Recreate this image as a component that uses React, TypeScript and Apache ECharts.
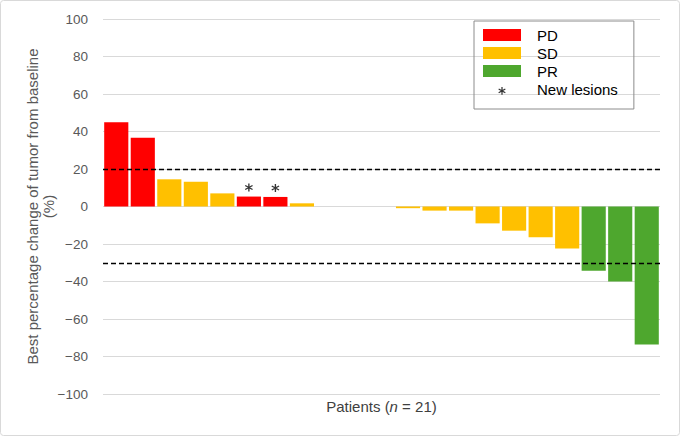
import React, { useEffect, useRef } from "react";
import * as echarts from "echarts";

const patients = ["1","2","3","4","5","6","7","8","9","10","11","12","13","14","15","16","17","18","19","20","21"];
const changes = [45, 36.7, 14.5, 13.2, 7, 5.3, 5.1, 1.7, 0, 0, 0, -0.9, -2.2, -2.2, -9, -12.9, -16.4, -22.4, -34.3, -40, -73.6];
const status = ["PD","PD","SD","SD","SD","PD","PD","SD","SD","SD","SD","SD","SD","SD","SD","SD","SD","SD","PR","PR","PR"];
const newLesion = [false,false,false,false,false,true,true,false,false,false,false,false,false,false,false,false,false,false,false,false,false];
const groups = ["PD", "SD", "PR"];
const groupColors = ["#ff0000", "#ffc000", "#4ea72e"];
const thresholds = [20, -30];
const yTicks = { min: -100, max: 100, interval: 20 };

const ASTERISK_BODY =
  "M4.2 0L5.8 0L5.8 10L4.2 10Z" +
  "M1.07 1.81L9.73 6.81L8.93 8.19L0.27 3.19Z" +
  "M0.27 6.81L8.93 1.81L9.73 3.19L1.07 8.19Z";
const ASTERISK = "path://" + ASTERISK_BODY;
// legend variant: extra empty extent above so the glyph sits smaller and lower
const ASTERISK_LEGEND = "path://M5 -5.2L5.01 -5.2" + ASTERISK_BODY + "M5 10.4L5.01 10.4";

export default function App() {
  const ref = useRef<HTMLDivElement>(null);
  useEffect(() => {
    if (!ref.current) return;
    const chart = echarts.init(ref.current, null, { renderer: "svg" });
    const font = "'Liberation Sans', Arial, sans-serif";
    const barSeries = groups.map((g, gi) => ({
      name: g,
      type: "bar",
      barGap: "-100%",
      barCategoryGap: "9%",
      itemStyle: { color: groupColors[gi] },
      data: changes.map((v, i) => (status[i] === g ? v : "-")),
      markLine:
        gi === 0
          ? {
              silent: true,
              symbol: "none",
              label: { show: false },
              lineStyle: { color: "#000", type: [5, 3], width: 1.3 },
              data: thresholds.map((t) => ({ yAxis: t })),
            }
          : undefined,
    }));
    const lesionSeries = {
      name: "New lesions",
      type: "scatter",
      symbol: ASTERISK,
      symbolSize: 8,
      symbolOffset: [0, -9],
      itemStyle: { color: "#000" },
      data: changes
        .map((v, i) => (newLesion[i] ? [i, v] : null))
        .filter((d) => d !== null),
      z: 5,
    };
    chart.setOption({
      animation: false,
      textStyle: { fontFamily: font },
      graphic: [
        {
          type: "rect",
          shape: { x: 0.5, y: 0.5, width: 679, height: 435, r: 3 },
          style: { fill: "none", stroke: "#d9d9d9", lineWidth: 1 },
          silent: true,
        },
      ],
      grid: { left: 103, right: 20, top: 19, bottom: 42 },
      legend: {
        orient: "vertical",
        left: 474,
        top: 21,
        padding: [5, 16, 11, 9],
        borderColor: "#8c8c8c",
        borderWidth: 1,
        itemWidth: 38,
        itemHeight: 12,
        itemGap: 0,
        selectedMode: false,
        textStyle: { fontSize: 15, color: "#000", lineHeight: 18, padding: [0, 0, 0, 11], fontFamily: font },
        data: [
          { name: "PD", icon: "rect" },
          { name: "SD", icon: "rect" },
          { name: "PR", icon: "rect" },
          { name: "New lesions", icon: ASTERISK_LEGEND },
        ],
      },
      xAxis: {
        type: "category",
        data: patients,
        axisLine: { show: false, onZero: false },
        axisTick: { show: false },
        axisLabel: { show: false },
        name: "Patients ({i|n} = 21)",
        nameLocation: "middle",
        nameGap: 5,
        nameMoveOverlap: false,
        nameTextStyle: {
          fontSize: 15,
          color: "#404040",
          verticalAlign: "top",
          rich: { i: { fontStyle: "italic", fontSize: 15, color: "#404040" } },
        },
      },
      yAxis: {
        type: "value",
        min: yTicks.min,
        max: yTicks.max,
        interval: yTicks.interval,
        axisLine: { show: false },
        axisTick: { show: false },
        splitLine: { lineStyle: { color: "#d9d9d9", width: 1 } },
        axisLabel: {
          fontSize: 13.5,
          color: "#595959",
          margin: 15,
          formatter: (v: number) => String(v).replace("-", "\u2212"),
        },
        name: "Best percentage change of tumor from baseline\n(%)",
        nameLocation: "middle",
        nameGap: 47,
        nameMoveOverlap: false,
        nameTextStyle: { fontSize: 15, color: "#595959", lineHeight: 16 },
      },
      series: [...barSeries, lesionSeries],
    });
    return () => chart.dispose();
  }, []);
  return (
    <div
      ref={ref}
      style={{ position: "absolute", left: 0, top: 0, width: 680, height: 436 }}
    />
  );
}
